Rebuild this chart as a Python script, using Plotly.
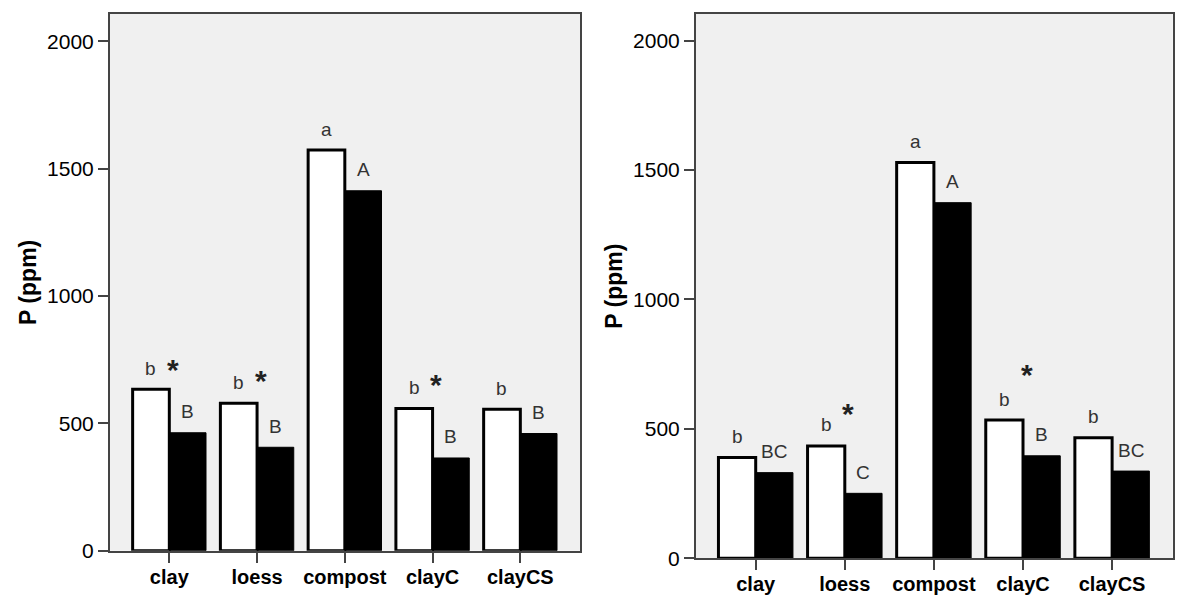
import plotly.graph_objects as go

categories = ["clay", "loess", "compost", "clayC", "clayCS"]
left_white = [634, 579, 1573, 558, 555]
left_black = [463, 406, 1413, 364, 460]
right_white = [389, 434, 1529, 534, 466]
right_black = [331, 251, 1374, 396, 337]
left_white_letters = ["b", "b", "a", "b", "b"]
left_black_letters = ["B", "B", "A", "B", "B"]
right_white_letters = ["b", "b", "a", "b", "b"]
right_black_letters = ["BC", "C", "A", "B", "BC"]
left_star = [725, 679, None, 663, None]
right_star = [None, 573, None, 721, None]
y_ticks = [0, 500, 1000, 1500, 2000]

xs = list(range(len(categories)))
FONT = "Liberation Sans, Arial, sans-serif"

# page body has an 8px margin; figure is sized so that it fits the window
OFF = 8
W, H = 1200 - OFF, 607 - OFF


def xd(a, b):
    return [(a - OFF) / W, (b - OFF) / W]


def yd(bottom, top):
    return [1 - (bottom - OFF) / H, 1 - (top - OFF) / H]


fig = go.Figure()

panels = [
    (left_white, left_black, left_white_letters, left_black_letters, left_star, "x", "y"),
    (right_white, right_black, right_white_letters, right_black_letters, right_star, "x2", "y2"),
]

annotations = []
for white, black, wl, bl, star, xa, ya in panels:
    fig.add_trace(go.Bar(x=xs, y=white, xaxis=xa, yaxis=ya,
                         marker=dict(color="white", line=dict(color="black", width=3)),
                         showlegend=False, hoverinfo="skip"))
    fig.add_trace(go.Bar(x=xs, y=black, xaxis=xa, yaxis=ya,
                         marker=dict(color="black", line=dict(color="black", width=1)),
                         showlegend=False, hoverinfo="skip"))
    for i in xs:
        annotations.append(dict(x=i - 0.209, y=white[i], xref=xa, yref=ya,
                                text=wl[i], showarrow=False, yanchor="middle", yshift=21,
                                font=dict(family=FONT, size=19, color="#333")))
        annotations.append(dict(x=i + 0.209, y=black[i], xref=xa, yref=ya,
                                text=bl[i], showarrow=False, yanchor="middle", yshift=21,
                                font=dict(family=FONT, size=19, color="#333")))
        if star[i] is not None:
            annotations.append(dict(x=i + 0.04, y=star[i], xref=xa, yref=ya,
                                    text="<b>*</b>", showarrow=False, yanchor="middle", yshift=-3,
                                    font=dict(family=FONT, size=30, color="#222")))

axis_common = dict(showline=True, linecolor="#444", linewidth=2, mirror=True,
                   showgrid=False, zeroline=False, ticks="outside", ticklen=10,
                   tickwidth=2, tickcolor="#444", automargin=False)

fig.update_layout(
    width=W, height=H,
    margin=dict(l=0, r=0, t=0, b=0),
    paper_bgcolor="white",
    plot_bgcolor="#f0f0f0",
    barmode="group", bargap=0.164, bargroupgap=0,
    xaxis=dict(domain=xd(110, 580), range=[-0.676, 4.68],
               tickvals=xs, ticktext=categories, anchor="y", ticklabelstandoff=-3,
               tickfont=dict(family=FONT, size=20, color="black", weight="bold"),
               **axis_common),
    yaxis=dict(domain=yd(550.7, 14), range=[0, 2107],
               tickvals=y_ticks, anchor="x",
               tickfont=dict(family=FONT, size=21, color="black"),
               title=dict(text="<b>P (ppm)</b>", font=dict(family=FONT, size=23, color="black"),
                          standoff=4),
               **axis_common),
    xaxis2=dict(domain=xd(696, 1172.7), range=[-0.67, 4.68],
                tickvals=xs, ticktext=categories, anchor="y2", ticklabelstandoff=-3,
                tickfont=dict(family=FONT, size=20, color="black", weight="bold"),
                **axis_common),
    yaxis2=dict(domain=yd(558.3, 14), range=[0, 2103],
                tickvals=y_ticks, anchor="x2",
                tickfont=dict(family=FONT, size=21, color="black"),
                title=dict(text="<b>P (ppm)</b>", font=dict(family=FONT, size=23, color="black"),
                           standoff=4),
                **axis_common),
    annotations=annotations,
)

fig.write_html("out.html")
